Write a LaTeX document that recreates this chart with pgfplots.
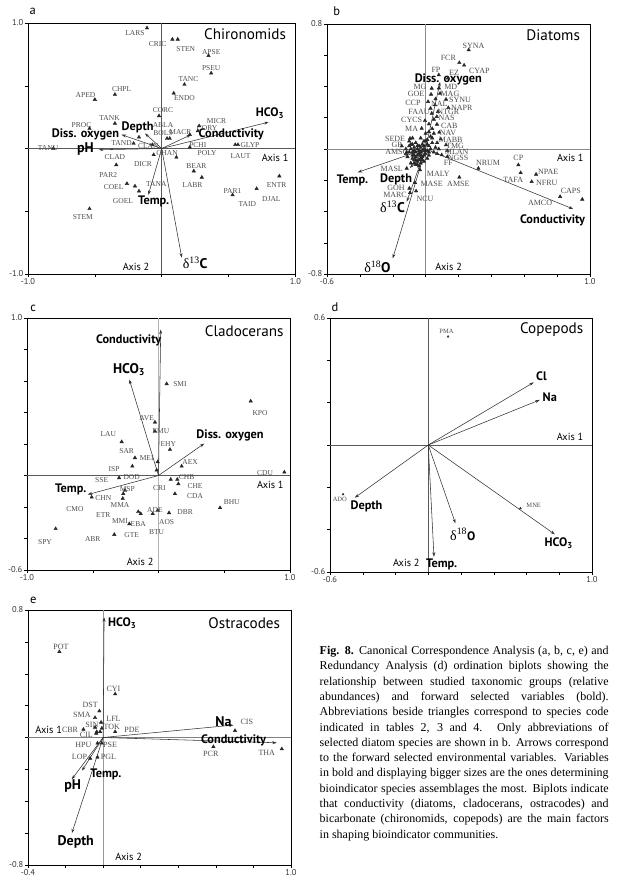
\documentclass[border=0pt]{standalone}
\usepackage{fontspec}
\setmainfont{Liberation Serif}
\setsansfont{PT Sans}
\usepackage{pgfplots}
\pgfplotsset{compat=1.18}
\usetikzlibrary{arrows.meta}

\newcommand\splab{\rmfamily\fontsize{7.5}{8}\selectfont}
\newcommand\vlab{\sffamily\bfseries\fontsize{12.3}{13}\selectfont}
\newcommand\vbig{\sffamily\bfseries\fontsize{14}{14}\selectfont}
\newcommand\ttl{\sffamily\fontsize{15.2}{15}\selectfont}
\newcommand\axl{\sffamily\fontsize{10.3}{10}\selectfont}
\newcommand\dlt[2]{{\rmfamily\mdseries\fontsize{14}{14}\selectfont δ\textsuperscript{#1}}#2}
\newcommand\hco{HCO\textsubscript{3}}

\pgfplotsset{
  bp/.style={scale only axis, clip=false, anchor=south west,
    axis line style={line width=0.6pt},
    tick align=outside, tick pos=left, major tick length=3pt,
    tick style={line width=0.5pt, black},
    ticklabel style={font=\sffamily\fontsize{8.5}{9}\selectfont, text=black!80},
    xticklabel style={inner sep=1pt}, yticklabel style={inner sep=1.5pt}},
  spp/.style={only marks, mark=triangle*, mark size=2pt, color=black!85},
  lbl/.style={draw=none, mark=none, nodes near coords, point meta=explicit symbolic,
    every node near coord/.append style={anchor=center, font=\splab, text=black!70, inner sep=0pt}},
  arr/.style={black!80, line width=0.55pt, -{Stealth[length=4.5pt,width=3pt]}},
  zl/.style={black!65, line width=0.5pt, forget plot},
  zlw/.style={black!30, line width=1.4pt, forget plot},
}

\begin{document}
\begin{tikzpicture}
\useasboundingbox (0,0) rectangle (619pt,-888pt);

% panel letters
\node[font=\sffamily\fontsize{12.5}{12}\selectfont] at (32.7pt,-11.7pt) {a};
\node[font=\sffamily\fontsize{12.5}{12}\selectfont] at (336.7pt,-11pt) {b};
\node[font=\sffamily\fontsize{12.5}{12}\selectfont] at (33.3pt,-308pt) {c};
\node[font=\sffamily\fontsize{12.5}{12}\selectfont] at (335pt,-306.7pt) {d};
\node[font=\sffamily\fontsize{12.5}{12}\selectfont] at (33.3pt,-600pt) {e};

%================ a: Chironomids
\begin{axis}[bp, at={(28pt,-274pt)}, width=267.4pt, height=251pt,
  xmin=-1, xmax=1, ymin=-1, ymax=1,
  xtick={-1,-0.5,0,0.5,1}, xticklabels={-1.0,,,,1.0},
  ytick={-1,-0.5,0,0.5,1}, yticklabels={-1.0,,,,1.0}]
\addplot[zl] coordinates {(-1,0) (1,0)};
\addplot[zl] coordinates {(0,-1) (0,1)};
\addplot[spp] table {
x y
-0.11 0.96
0.08 0.87
0.12 0.87
0.35 0.74
0.37 0.60
0.17 0.51
0.09 0.44
-0.50 0.39
-0.35 0.43
-0.02 0.26
-0.54 0.16
-0.35 0.20
0.28 0.18
-0.17 0.09
0.04 0.08
0.06 0.08
0.21 0.11
0.27 0.14
0.21 0.01
-0.21 0.04
-0.07 0.03
-0.06 -0.05
0.11 -0.07
-0.34 -0.13
-0.26 -0.28
-0.20 -0.30
-0.17 -0.34
0.24 -0.18
0.30 -0.23
0.55 0.03
0.57 0.03
-0.81 0.00
-0.54 -0.48
0.88 -0.22
0.71 -0.32
0.53 -0.37
};
\addplot[lbl] table[meta=lab] {
x y lab
-0.20 0.92 LARS
-0.03 0.83 CRIC
0.18 0.79 STEN
0.37 0.77 APSE
0.37 0.64 PSEU
0.20 0.55 TANC
0.17 0.40 ENDO
-0.57 0.43 APED
-0.30 0.47 CHPL
0.01 0.31 CORC
-0.60 0.19 PROC
-0.39 0.24 TANK
0.41 0.22 MICR
0.01 0.19 ABLA
0.01 0.12 BOLS
0.14 0.13 MACR
0.34 0.16 CORY
0.27 0.03 PCHI
-0.30 0.04 TAND
-0.10 0.02 CLAN
0.04 -0.04 CHAN
-0.14 -0.12 DICR
0.34 -0.04 POLY
-0.35 -0.07 CLAD
-0.40 -0.21 PAR2
-0.36 -0.31 COEL
-0.29 -0.42 GOEL
-0.04 -0.28 TANA
0.26 -0.14 BEAR
0.23 -0.29 LABR
0.59 -0.06 LAUT
0.66 0.03 GLYP
-0.85 0.00 TANU
-0.59 -0.55 STEM
0.86 -0.29 ENTR
0.82 -0.40 DJAL
0.53 -0.34 PAR1
0.64 -0.44 TAID
};
\addplot[arr] coordinates {(0,0) (-0.125,0.12)};
\addplot[arr] coordinates {(0,0) (-0.30,0.11)};
\addplot[arr] coordinates {(0,0) (-0.47,-0.01)};
\addplot[arr] coordinates {(0,0) (0.80,0.21)};
\addplot[arr] coordinates {(0,0) (0.22,0.11)};
\addplot[arr] coordinates {(0,0) (-0.10,-0.37)};
\addplot[arr] coordinates {(0,0) (0.15,-0.87)};
\node[font=\vlab] at (axis cs:-0.18,0.17) {Depth};
\node[font=\vlab] at (axis cs:-0.57,0.11) {Diss. oxygen};
\node[font=\vbig] at (axis cs:-0.57,0.00) {pH};
\node[font=\vlab] at (axis cs:0.81,0.28) {\hco};
\node[font=\vlab] at (axis cs:0.52,0.11) {Conductivity};
\node[font=\vlab] at (axis cs:-0.06,-0.42) {Temp.};
\node[font=\vbig] at (axis cs:0.25,-0.91) {\dlt{13}{C}};
\node[font=\ttl, anchor=east] at (rel axis cs:0.978,0.956) {Chironomids};
\node[font=\axl, anchor=east] at (rel axis cs:0.987,0.462) {Axis 1};
\node[font=\axl, anchor=east] at (rel axis cs:0.467,0.028) {Axis 2};
\end{axis}

%================ b: Diatoms
\begin{axis}[bp, at={(327pt,-274pt)}, width=263pt, height=250pt,
  xmin=-0.6, xmax=1, ymin=-0.8, ymax=0.8,
  xtick={-0.6,-0.4,-0.2,0,0.2,0.4,0.6,0.8,1.0}, xticklabels={-0.6,,,,,,,,1.0},
  ytick={-0.8,-0.6,-0.4,-0.2,0,0.2,0.4,0.6,0.8}, yticklabels={-0.8,,,,,,,,0.8}]
\addplot[zl, black!45] coordinates {(-0.6,0) (1,0)};
\addplot[zl, black!45] coordinates {(0,-0.8) (0,0.8)};
\addplot[spp] table {
x y
0.262 0.634
0.205 0.552
0.234 0.536
0.080 0.474
0.136 0.454
0.037 0.388
0.081 0.390
0.033 0.350
0.088 0.356
0.124 0.318
0.015 0.303
0.057 0.282
0.138 0.264
0.037 0.228
0.075 0.239
-0.004 0.181
0.068 0.207
-0.024 0.132
0.069 0.158
0.083 0.107
-0.095 0.068
0.092 0.064
-0.145 0.019
0.124 0.026
-0.115 -0.021
0.132 -0.011
0.132 -0.049
0.098 -0.038
0.321 -0.124
-0.115 -0.124
-0.034 -0.134
-0.064 -0.216
0.205 -0.181
-0.099 -0.252
-0.095 -0.280
-0.058 -0.269
0.564 -0.102
0.578 -0.152
0.672 -0.162
0.645 -0.209
0.818 -0.305
0.953 -0.322
-0.10 0.05
-0.08 0.03
-0.06 0.04
-0.04 0.02
-0.02 0.03
0.00 0.05
0.02 0.02
-0.09 0.00
-0.07 -0.01
-0.05 0.00
-0.03 -0.02
-0.01 0.00
0.01 -0.01
0.03 0.00
-0.08 -0.04
-0.06 -0.05
-0.04 -0.03
-0.02 -0.05
0.00 -0.03
0.02 -0.04
-0.07 -0.07
-0.05 -0.08
-0.03 -0.06
-0.01 -0.08
0.01 -0.06
-0.09 -0.09
-0.06 -0.10
-0.04 -0.11
-0.08 0.07
-0.03 0.07
0.04 0.04
0.05 -0.02
0.06 0.01
-0.11 -0.05
-0.10 -0.02
0.03 0.08
0.00 0.10
0.05 0.10
0.04 0.13
0.02 0.16
0.05 0.19
0.03 0.26
0.06 0.32
-0.09 0.03
-0.07 0.01
-0.05 0.02
-0.03 0.01
-0.01 0.02
0.01 0.03
-0.08 -0.02
-0.06 -0.02
-0.04 -0.01
-0.02 -0.01
0.00 -0.01
0.02 -0.02
-0.07 -0.04
-0.05 -0.04
-0.03 -0.04
-0.01 -0.04
-0.08 -0.06
-0.06 -0.07
-0.04 -0.07
-0.02 -0.07
-0.07 -0.09
-0.05 -0.10
-0.03 -0.09
-0.10 0.02
-0.12 0.00
-0.12 -0.03
0.01 0.06
-0.01 0.05
0.02 0.11
0.04 0.07
0.07 0.04
0.08 0.00
0.07 -0.03
};
\addplot[lbl, every node near coord/.append style={font=\rmfamily\fontsize{8}{8}\selectfont}] table[meta=lab] {
x y lab
0.291 0.660 SYNA
0.138 0.580 FCR
0.327 0.499 CYAP
0.063 0.506 FP
0.173 0.486 EZ
-0.034 0.399 MG
0.153 0.399 MD
-0.058 0.350 GOE
0.148 0.350 MAG
0.209 0.314 SYNU
-0.077 0.296 CCP
0.083 0.292 NAL
0.220 0.264 NAPR
-0.040 0.239 FAAU
0.138 0.239 NTGR
-0.085 0.186 CYCS
0.128 0.196 NAS
-0.085 0.128 MA
0.144 0.149 CAB
0.136 0.104 NAV
-0.186 0.064 SEDE
0.153 0.058 MABB
-0.176 0.026 GP
0.179 0.019 TMG
-0.176 -0.017 AMSC
0.189 -0.017 MLAN
0.197 -0.056 NGSS
0.138 -0.092 FF
0.380 -0.092 NRUM
0.564 -0.060 CP
0.533 -0.198 TAFA
0.745 -0.149 NPAE
0.737 -0.216 NFRU
0.883 -0.269 CAPS
0.696 -0.348 AMCO
-0.206 -0.130 MASL
0.077 -0.156 MALY
0.037 -0.224 MASE
0.199 -0.226 AMSE
-0.180 -0.248 GOH
-0.186 -0.294 MARC
-0.004 -0.322 NCU
};
\addplot[arr] coordinates {(0,0) (0.088,0.43)};
\addplot[arr] coordinates {(0,0) (-0.413,-0.149)};
\addplot[arr] coordinates {(0,0) (-0.095,-0.122)};
\addplot[arr] coordinates {(0,0) (-0.115,-0.337)};
\addplot[arr] coordinates {(0,0) (-0.20,-0.70)};
\addplot[arr] coordinates {(0,0) (0.898,-0.384)};
\node[font=\vlab] at (axis cs:0.138,0.446) {Diss. oxygen};
\node[font=\vlab] at (axis cs:-0.445,-0.203) {Temp.};
\node[font=\vlab] at (axis cs:-0.180,-0.192) {Depth};
\node[font=\vbig] at (axis cs:-0.201,-0.369) {\dlt{13}{C}};
\node[font=\vbig] at (axis cs:-0.293,-0.753) {\dlt{18}{O}};
\node[font=\vlab] at (axis cs:0.772,-0.459) {Conductivity};
\node[font=\ttl, anchor=east] at (rel axis cs:0.975,0.956) {Diatoms};
\node[font=\axl, anchor=east] at (rel axis cs:0.989,0.464) {Axis 1};
\node[font=\axl, anchor=west] at (rel axis cs:0.399,0.029) {Axis 2};
\end{axis}

%================ c: Cladocerans
\begin{axis}[bp, at={(27pt,-570pt)}, width=263pt, height=252pt,
  xmin=-1, xmax=1, ymin=-0.6, ymax=1,
  xtick={-1,-0.5,0,0.5,1}, xticklabels={-1.0,,,,1.0},
  ytick={-0.6,-0.4,-0.2,0,0.2,0.4,0.6,0.8,1.0}, yticklabels={-0.6,,,,,,,,1.0}]
\addplot[zl] coordinates {(-1,0) (1,0)};
\addplot[zlw] coordinates {(0,-0.6) (0,1)};
\addplot[spp] table {
x y
0.062 0.582
0.701 0.472
-0.027 0.338
-0.027 0.281
-0.280 0.214
0.087 0.165
-0.179 0.112
-0.006 0.087
-0.199 0.059
-0.014 0.034
0.176 0.059
-0.300 -0.015
0.093 -0.025
0.143 -0.025
0.151 -0.053
0.125 -0.116
-0.268 -0.116
-0.255 -0.095
-0.508 -0.138
-0.272 -0.146
-0.006 -0.222
-0.154 -0.230
-0.135 -0.243
-0.044 -0.243
0.080 -0.237
-0.222 -0.307
-0.336 -0.375
-0.782 -0.338
0.468 -0.205
0.957 0.021
};
\addplot[lbl] table[meta=lab] {
x y lab
0.163 0.582 SMI
0.772 0.398 KPO
-0.090 0.362 AVE
0.019 0.281 EMU
-0.382 0.260 LAU
0.075 0.197 EHY
-0.242 0.154 SAR
-0.090 0.108 MEI
-0.338 0.038 ISP
0.240 0.083 AEX
-0.432 -0.032 SSE
-0.204 -0.011 DOD
0.214 -0.011 CHB
0.278 -0.068 CHE
0.006 -0.078 CRI
-0.237 -0.089 MSP
-0.420 -0.146 CHN
0.278 -0.133 CDA
-0.293 -0.190 MMA
-0.635 -0.216 CMO
-0.027 -0.222 ADE
0.202 -0.229 DBR
-0.420 -0.248 ETR
-0.293 -0.290 MMI
-0.154 -0.311 EBA
0.062 -0.294 AOS
-0.014 -0.357 BTU
-0.204 -0.375 GTE
-0.500 -0.406 ABR
-0.863 -0.421 SPY
0.557 -0.167 BHU
0.810 0.017 CDU
};
\addplot[arr] coordinates {(0,0) (0.017,0.927)};
\addplot[arr] coordinates {(0,0) (-0.222,0.610)};
\addplot[arr] coordinates {(0,0) (0.348,0.203)};
\addplot[arr] coordinates {(0,0) (-0.538,-0.121)};
\node[font=\vlab] at (axis cs:-0.227,0.859) {Conductivity};
\node[font=\vbig] at (axis cs:-0.224,0.673) {\hco};
\node[font=\vlab] at (axis cs:0.544,0.256) {Diss. oxygen};
\node[font=\vlab] at (axis cs:-0.667,-0.089) {Temp.};
\node[font=\ttl, anchor=east] at (rel axis cs:0.989,0.948) {Cladocerans};
\node[font=\axl, anchor=east] at (rel axis cs:0.989,0.337) {Axis 1};
\node[font=\axl, anchor=east] at (rel axis cs:0.494,0.032) {Axis 2};
\end{axis}

%================ d: Copepods
\begin{axis}[bp, at={(330pt,-572pt)}, width=262pt, height=254pt,
  xmin=-0.6, xmax=1, ymin=-0.6, ymax=0.6,
  xtick={-0.6,-0.4,-0.2,0,0.2,0.4,0.6,0.8,1.0}, xticklabels={-0.6,,,,,,,,1.0},
  ytick={-0.6,-0.4,-0.2,0,0.2,0.4,0.6}, yticklabels={-0.6,,,,,,0.6}]
\addplot[zl] coordinates {(-0.6,0) (1,0)};
\addplot[zl] coordinates {(0,-0.6) (0,0.6)};
\addplot[spp, mark size=1.1pt] table {
x y
0.121 0.512
-0.520 -0.233
0.563 -0.299
};
\addplot[lbl, every node near coord/.append style={font=\rmfamily\fontsize{6.5}{7}\selectfont}] table[meta=lab] {
x y lab
0.111 0.535 PMA
-0.540 -0.255 ADO
0.644 -0.287 MNE
};
\addplot[arr] coordinates {(0,0) (0.644,0.296)};
\addplot[arr] coordinates {(0,0) (0.681,0.213)};
\addplot[arr] coordinates {(0,0) (-0.449,-0.249)};
\addplot[arr] coordinates {(0,0) (0.166,-0.370)};
\addplot[arr] coordinates {(0,0) (0.773,-0.422)};
\addplot[arr] coordinates {(0,0) (0.035,-0.528)};
\node[font=\vlab] at (axis cs:0.691,0.323) {Cl};
\node[font=\vlab] at (axis cs:0.742,0.228) {Na};
\node[font=\vlab] at (axis cs:-0.377,-0.291) {Depth};
\node[font=\vlab] at (axis cs:0.211,-0.422) {\dlt{18}{O}};
\node[font=\vlab] at (axis cs:0.797,-0.464) {\hco};
\node[font=\vlab] at (axis cs:0.082,-0.564) {Temp.};
\node[font=\ttl, anchor=east] at (rel axis cs:0.98,0.953) {Copepods};
\node[font=\axl, anchor=east] at (rel axis cs:0.98,0.533) {Axis 1};
\node[font=\axl, anchor=east] at (rel axis cs:0.355,0.034) {Axis 2};
\end{axis}

%================ e: Ostracodes
\begin{axis}[bp, at={(28pt,-865pt)}, width=263pt, height=255pt,
  xmin=-0.4, xmax=1, ymin=-0.8, ymax=0.8,
  xtick={-0.4,-0.2,0,0.2,0.4,0.6,0.8,1.0}, xticklabels={-0.4,,,,,,,1.0},
  ytick={-0.8,-0.6,-0.4,-0.2,0,0.2,0.4,0.6,0.8}, yticklabels={-0.8,,,,,,,,0.8}]
\addplot[zl, black!50] coordinates {(-0.4,0) (1,0)};
\addplot[zlw, black!40, line width=1pt] coordinates {(0,-0.8) (0,0.8)};
\addplot[spp] table {
x y
-0.233 0.538
0.064 0.273
-0.020 0.166
-0.043 0.124
-0.011 0.095
-0.043 0.064
-0.034 0.036
-0.016 0.036
-0.007 0.058
0.064 0.036
-0.105 0.051
-0.037 0.026
0.702 0.043
-0.030 -0.036
-0.007 -0.036
-0.069 -0.131
-0.030 -0.124
0.587 -0.058
0.951 -0.072
};
\addplot[lbl, every node near coord/.append style={font=\rmfamily\fontsize{8}{8}\selectfont}] table[meta=lab] {
x y lab
-0.225 0.570 POT
0.055 0.302 CYI
-0.069 0.202 DST
-0.113 0.139 SMA
0.055 0.120 LFL
-0.060 0.078 SIN
0.046 0.068 TOK
0.153 0.047 PDE
-0.176 0.047 CBR
-0.090 0.016 CIL
0.765 0.099 CIS
-0.105 -0.047 HPU
0.037 -0.047 PSE
-0.126 -0.120 LOP
0.028 -0.124 PGL
0.573 -0.105 PCR
0.871 -0.095 THA
};
\addplot[arr] coordinates {(0,0) (0.005,0.754)};
\addplot[arr] coordinates {(0,0) (0.694,0.078)};
\addplot[arr] coordinates {(0,0) (0.924,-0.033)};
\addplot[arr] coordinates {(0,0) (-0.113,-0.208)};
\addplot[arr] coordinates {(0,0) (-0.167,-0.262)};
\addplot[arr] coordinates {(0,0) (-0.167,-0.601)};
\node[font=\vlab] at (axis cs:0.101,0.716) {\hco};
\node[font=\vbig] at (axis cs:0.640,0.099) {Na};
\node[font=\vlab] at (axis cs:0.694,-0.016) {Conductivity};
\node[font=\vlab] at (axis cs:0.015,-0.231) {Temp.};
\node[font=\vbig] at (axis cs:-0.162,-0.304) {pH};
\node[font=\vbig] at (axis cs:-0.146,-0.654) {Depth};
\node[font=\ttl, anchor=east] at (rel axis cs:0.972,0.948) {Ostracodes};
\node[font=\axl, anchor=west] at (rel axis cs:0.015,0.529) {Axis 1};
\node[font=\axl, anchor=west] at (rel axis cs:0.319,0.031) {Axis 2};
\end{axis}

%================ caption
\node[anchor=north west, inner sep=0pt, align=left,
  font=\rmfamily\fontsize{12}{15.3}\selectfont] at (319.5pt,-646pt) {%
\makebox[289pt][s]{\textbf{Fig. 8.} Canonical Correspondence Analysis (a, b, c, e) and}\\
\makebox[289pt][s]{Redundancy Analysis (d) ordination biplots showing the}\\
\makebox[289pt][s]{relationship between studied taxonomic groups (relative}\\
\makebox[289pt][s]{abundances) and forward selected variables (bold).}\\
\makebox[289pt][s]{Abbreviations beside triangles correspond to species code}\\
\makebox[289pt][s]{indicated in tables 2, 3 and 4. Only abbreviations of}\\
\makebox[289pt][s]{selected diatom species are shown in b. Arrows correspond}\\
\makebox[289pt][s]{to the forward selected environmental variables. Variables}\\
\makebox[289pt][s]{in bold and displaying bigger sizes are the ones determining}\\
\makebox[289pt][s]{bioindicator species assemblages the most. Biplots indicate}\\
\makebox[289pt][s]{that conductivity (diatoms, cladocerans, ostracodes) and}\\
\makebox[289pt][s]{bicarbonate (chironomids, copepods) are the main factors}\\
in shaping bioindicator communities.};
\end{tikzpicture}
\end{document}
